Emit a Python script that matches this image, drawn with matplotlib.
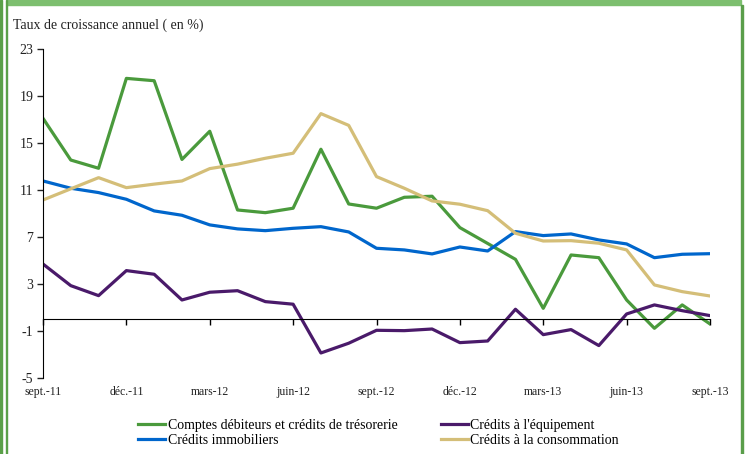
import matplotlib.pyplot as plt
from matplotlib.patches import Rectangle

# Données : taux de croissance annuel (%), mensuel de sept.-11 à sept.-13
mois = list(range(25))
etiquettes = ['sept.-11', 'déc.-11', 'mars-12', 'juin-12', 'sept.-12',
              'déc.-12', 'mars-13', 'juin-13', 'sept.-13']

comptes_debiteurs = [17.1, 13.55, 12.85, 20.5, 20.3, 13.6, 16.0, 9.3, 9.07, 9.45,
                     14.47, 9.81, 9.45, 10.38, 10.47, 7.8, 6.45, 5.1, 0.93, 5.47,
                     5.24, 1.64, -0.77, 1.22, -0.4]
credits_immo = [11.77, 11.15, 10.78, 10.21, 9.22, 8.85, 8.03, 7.69, 7.54, 7.74,
                7.88, 7.43, 6.04, 5.9, 5.56, 6.15, 5.81, 7.46, 7.12, 7.26,
                6.75, 6.41, 5.24, 5.53, 5.58]
credits_equip = [4.7, 2.86, 2.01, 4.14, 3.83, 1.64, 2.3, 2.43, 1.5, 1.28,
                 -2.87, -2.04, -0.94, -0.97, -0.83, -1.99, -1.85, 0.85, -1.31, -0.88,
                 -2.24, 0.45, 1.22, 0.73, 0.31]
credits_conso = [10.15, 11.1, 12.05, 11.2, 11.5, 11.77, 12.82, 13.2, 13.7, 14.13,
                 17.5, 16.5, 12.14, 11.15, 10.07, 9.79, 9.24, 7.32, 6.66, 6.69,
                 6.47, 5.9, 2.92, 2.35, 1.98]

plt.rcParams['font.family'] = ['Liberation Serif', 'DejaVu Serif']
plt.rcParams['axes.unicode_minus'] = False

fig = plt.figure(figsize=(7.5, 4.54), dpi=100)
ax = fig.add_axes([43/750, 1-378/454, (710-43)/750, (378-49)/454])

lw = 2.3
l1, = ax.plot(mois, comptes_debiteurs, color='#4a9a3c', lw=lw,
              label='Comptes débiteurs et crédits de trésorerie')
l2, = ax.plot(mois, credits_immo, color='#0066cc', lw=lw, label='Crédits immobiliers')
l3, = ax.plot(mois, credits_equip, color='#4a1a6a', lw=lw, label="Crédits à l'équipement")
l4, = ax.plot(mois, credits_conso, color='#d4be78', lw=lw, label='Crédits à la consommation')

ax.set_xlim(0, 24)
ax.set_ylim(-5, 23)
ax.set_yticks([-5, -1, 3, 7, 11, 15, 19, 23])
ax.tick_params(axis='y', labelsize=10, length=4, width=1, colors='#222222', pad=3)

# axe horizontal qui croise à 0, étiquettes en bas
ax.spines['bottom'].set_position(('data', 0))
ax.spines['top'].set_visible(False)
ax.spines['right'].set_visible(False)
ax.set_xticks(mois[::3])
ax.tick_params(axis='x', labelbottom=False, length=4, width=1, direction='out')
sec = ax.secondary_xaxis('bottom')
sec.set_xticks(mois[::3])
sec.set_xticklabels(etiquettes)
sec.tick_params(length=0, labelsize=8.5, pad=6, colors='#222222')
sec.spines['bottom'].set_visible(False)

fig.text(13/750, 1-25/454, 'Taux de croissance annuel ( en %)', fontsize=10,
         va='center', ha='left', color='#222222')

fig.legend(handles=[l1, l2, l3, l4], ncol=2, loc='center', fontsize=10,
           bbox_to_anchor=(0.5 + 3.5/750, 1-433/454), frameon=False, handlelength=1.95,
           handletextpad=0.2, columnspacing=3.1, labelspacing=0.12, borderpad=0)

# cadre vert
fig.patches.append(Rectangle((7/750, 1-5/454), 734/750, 5/454, transform=fig.transFigure,
                             color='#7dbf6f', zorder=0))
fig.patches.append(Rectangle((0, 0), 1.5/750, 1, transform=fig.transFigure, color='#5aa048'))
fig.patches.append(Rectangle((5.5/750, 0), 1.5/750, 1, transform=fig.transFigure, color='#5aa048'))
fig.patches.append(Rectangle((741/750, 0), 2/750, 1-5/454, transform=fig.transFigure, color='#5a9e4a'))

fig.savefig('out.png', dpi=100)
